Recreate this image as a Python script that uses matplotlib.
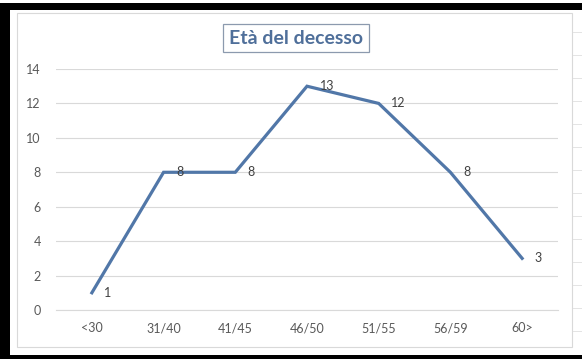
import matplotlib
matplotlib.use("Agg")
import matplotlib.pyplot as plt
from matplotlib.patches import Rectangle
from matplotlib.lines import Line2D

categories = ["<30", "31/40", "41/45", "46/50", "51/55", "56/59", "60>"]
values = [1, 8, 8, 13, 12, 8, 3]
y_ticks = [0, 2, 4, 6, 8, 10, 12, 14]
title = "Età del decesso"

W, H = 582, 359
fig = plt.figure(figsize=(W / 100, H / 100), dpi=100)
fig.patch.set_facecolor("white")

def px(x0, y0, x1, y1):
    return (x0 / W, 1 - y1 / H, (x1 - x0) / W, (y1 - y0) / H)

# screenshot frame
for (x0, y0, x1, y1) in [(0, 3, W, 10), (0, 3, 10, H), (0, 355, W, H)]:
    l, b, w, h = px(x0, y0, x1, y1)
    fig.patches.append(Rectangle((l, b), w, h, transform=fig.transFigure,
                                 facecolor="black", edgecolor="none", zorder=10))
# chart area border
l, b, w, h = px(17, 13, 572, 347)
fig.patches.append(Rectangle((l, b), w, h, transform=fig.transFigure,
                             facecolor="none", edgecolor="#d9d9d9", lw=0.8, zorder=5))
# spreadsheet cells lines on the right
for yy in range(32, 350, 23):
    fig.add_artist(Line2D([573 / W, 1], [1 - yy / H] * 2, color="#e4e4e4", lw=0.7))

ax = fig.add_axes([56 / W, 1 - 310 / H, (558 - 56) / W, (310 - 69) / H])
ax.set_facecolor("none")
x = list(range(len(categories)))
ax.plot(x, values, color="#5177A8", lw=2.3, solid_joinstyle="miter", zorder=3)
for xi, v in zip(x, values):
    ax.annotate(str(v), (xi, v), xytext=(9, 0), textcoords="offset points",
                ha="left", va="center", fontsize=9, color="#404040",
                family="Lato", zorder=4)

ax.set_xlim(-0.5, len(categories) - 0.5)
ax.set_ylim(0, 14)
ax.set_yticks(y_ticks)
ax.set_xticks(x)
ax.set_xticklabels(categories)
ax.grid(axis="y", color="#d9d9d9", lw=0.8)
ax.set_axisbelow(True)
for s in ["top", "right", "left"]:
    ax.spines[s].set_visible(False)
ax.spines["bottom"].set_color("#d9d9d9")
ax.spines["bottom"].set_linewidth(0.8)
ax.tick_params(length=0, colors="#595959", labelsize=9)
ax.tick_params(axis="y", pad=11)
ax.tick_params(axis="x", pad=9)
for lab in ax.get_xticklabels() + ax.get_yticklabels():
    lab.set_family("Lato")

fig.text(296 / W, 1 - 38 / H, title, ha="center", va="center", fontsize=14,
         fontweight="bold", color="#4F6F9A", family="Lato",
         bbox=dict(boxstyle="square,pad=0.3", facecolor="white",
                   edgecolor="#8c9aae", lw=0.9))

fig.savefig("out.png", dpi=100)
